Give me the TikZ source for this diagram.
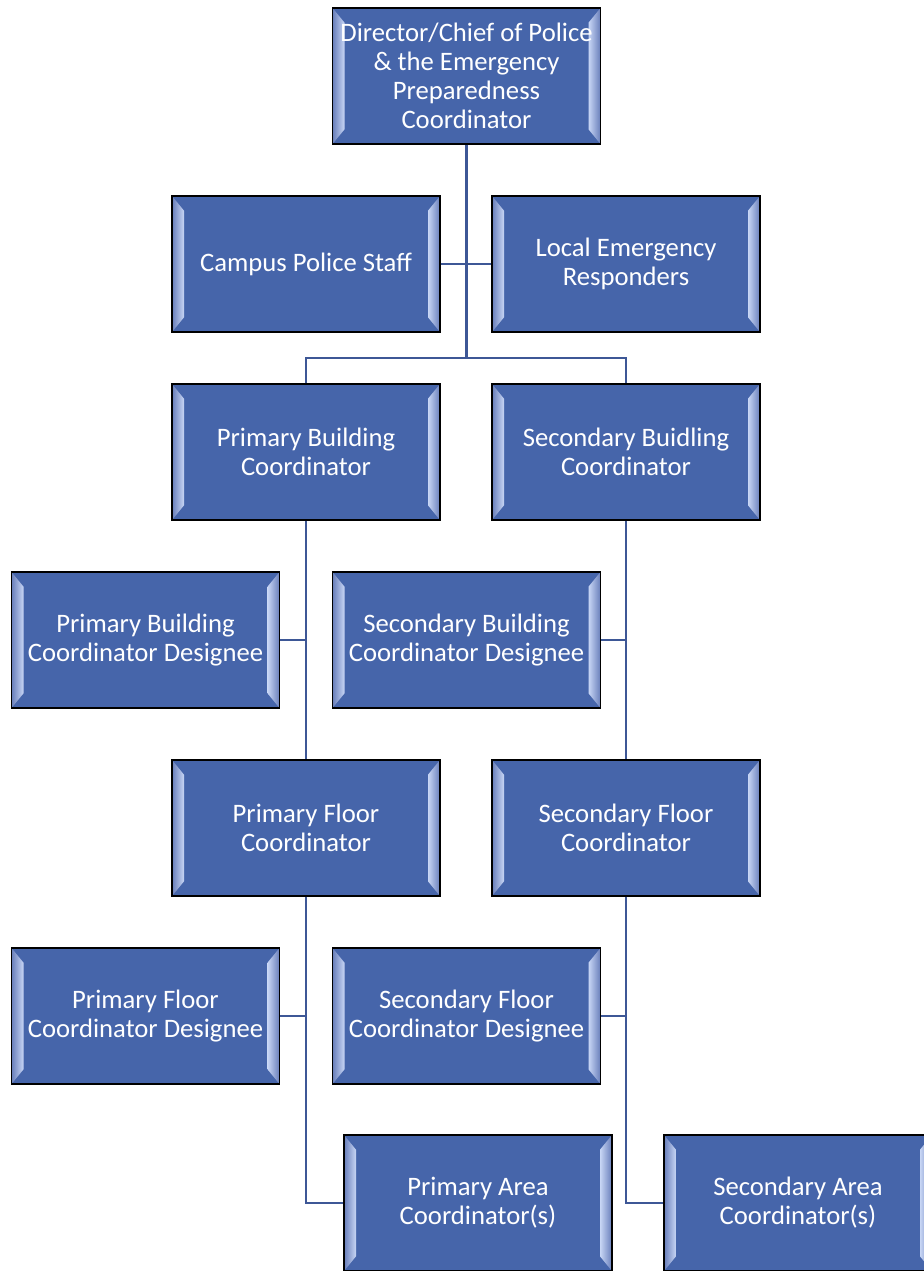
\documentclass[tikz,border=0pt]{standalone}
\usepackage{fontspec}
\setmainfont{Carlito}
\usepackage{xcolor}
\definecolor{orgblue}{RGB}{70,101,170}
\definecolor{orgline}{RGB}{61,87,150}
\definecolor{bevlight}{RGB}{200,214,245}
\definecolor{bevdark}{RGB}{104,126,186}
\usetikzlibrary{positioning,calc}
\tikzset{
  orgbox/.style={draw=black,line width=0.9pt,fill=orgblue,text=white,align=center,
    minimum width=201pt,minimum height=102pt,inner sep=2pt,
    font=\fontsize{20pt}{21.75pt}\selectfont,
    path picture={
      \coordinate (bw) at (path picture bounding box.south west);
      \coordinate (be) at (path picture bounding box.north east);
      \shade[left color=bevdark,right color=bevlight] (bw |- be) -- ([shift={(9pt,-11pt)}]bw |- be) -- ([shift={(9pt,11pt)}]bw) -- (bw) -- cycle;
      \shade[left color=bevlight,right color=bevdark] (be) -- ([shift={(-9pt,-11pt)}]be) -- ([shift={(-9pt,11pt)}]be |- bw) -- (be |- bw) -- cycle;
    }},
  conn/.style={line width=2pt,draw=orgline},
}

\begin{document}
\begin{tikzpicture}[x=0.75pt,y=-0.75pt]
    \useasboundingbox (0,0) rectangle (924,1271);
    % top
    \node[orgbox] (dir) at (466.5,76) {Director/Chief of Police\\\& the Emergency\\Preparedness\\Coordinator};
    \node[orgbox] (staff) at (306,264) {Campus Police Staff};
    \node[orgbox] (resp) at (626,264) {Local Emergency\\Responders};
    % buildings
    \node[orgbox] (pbc) at (306,452) {Primary Building\\Coordinator};
    \node[orgbox] (sbc) at (626,452) {Secondary Buidling\\Coordinator};
    \node[orgbox] (pbd) at (145.5,640) {Primary Building\\Coordinator Designee};
    \node[orgbox] (sbd) at (466.5,640) {Secondary Building\\Coordinator Designee};
    % floors
    \node[orgbox] (pfc) at (306,828) {Primary Floor\\Coordinator};
    \node[orgbox] (sfc) at (626,828) {Secondary Floor\\Coordinator};
    \node[orgbox] (pfd) at (145.5,1016) {Primary Floor\\Coordinator Designee};
    \node[orgbox] (sfd) at (466.5,1016) {Secondary Floor\\Coordinator Designee};
    % areas
    \node[orgbox] (pac) at (478,1203) {Primary Area\\Coordinator(s)};
    \node[orgbox] (sac) at (798,1203) {Secondary Area\\Coordinator(s)};

    \coordinate (split) at (466.5,358);
    \draw[conn] (dir.south) -- (split);
    \draw[conn] (staff.east) -- (resp.west);
    \draw[conn] (pbc.north) |- (split) -| (sbc.north);
    \draw[conn] (pbc.south) -- (pfc.north);
    \draw[conn] (pbd.east) -- (pbd.east -| pbc.south);
    \draw[conn] (sbc.south) -- (sfc.north);
    \draw[conn] (sbd.east) -- (sbd.east -| sbc.south);
    \draw[conn] (pfc.south) |- (pac.west);
    \draw[conn] (pfd.east) -- (pfd.east -| pfc.south);
    \draw[conn] (sfc.south) |- (sac.west);
    \draw[conn] (sfd.east) -- (sfd.east -| sfc.south);
  \end{tikzpicture}
\end{document}
